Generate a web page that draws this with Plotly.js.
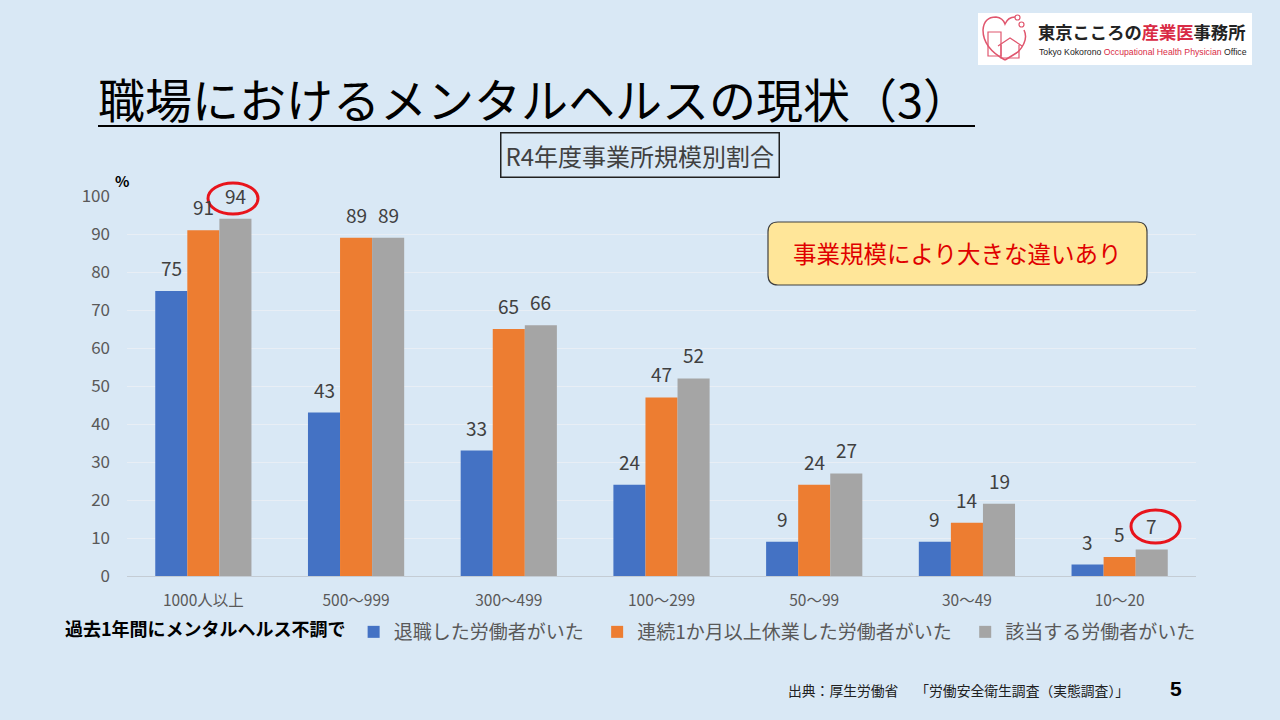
<!DOCTYPE html>
<html><head><meta charset="utf-8">
<script src="https://cdn.plot.ly/plotly-3.0.1.min.js"></script>
<style>html,body{margin:0;padding:0;background:#d9e8f5;}#chart{width:1280px;height:720px;}</style>
</head><body><div id="chart"></div>
<script>
const categories = ['1000人以上','500～999','300～499','100～299','50～99','30～49','10～20'];
const seriesNames = ['退職した労働者がいた','連続1か月以上休業した労働者がいた','該当する労働者がいた'];
const resigned = [75, 43, 33, 24, 9, 9, 3];
const leave = [91, 89, 65, 47, 24, 14, 5];
const any = [94, 89, 66, 52, 27, 19, 7];
const yTicks = [0,10,20,30,40,50,60,70,80,90,100];
const colors = ['#4472C4','#ED7D31','#A5A5A5'];

const FONT = '"Noto Sans CJK JP", "Noto Sans", sans-serif';
const L=127, R=1196, T=196, B=576, W=R-L, H=B-T;
const px = x => (x-L)/W;
const py = y => (B-y)/H;
const BARGAP = 0.37;
const barW = (1-BARGAP)/3;

function roundRect(x0,y0,x1,y1,r){
  const p=(x,y)=>px(x)+','+py(y);
  return 'M'+p(x0+r,y0)+' L'+p(x1-r,y0)+' Q'+p(x1,y0)+' '+p(x1,y0+r)+
    ' L'+p(x1,y1-r)+' Q'+p(x1,y1)+' '+p(x1-r,y1)+' L'+p(x0+r,y1)+
    ' Q'+p(x0,y1)+' '+p(x0,y1-r)+' L'+p(x0,y0+r)+' Q'+p(x0,y0)+' '+p(x0+r,y0)+' Z';
}

const seriesVals = [resigned, leave, any];
const traces = seriesVals.map((v,i)=>({
  type:'bar', name:seriesNames[i] + '\u00A0\u00A0', x:categories, y:v,
  marker:{color:colors[i]}, hoverinfo:'none'
}));

const shapes = [
  {type:'line', xref:'paper', yref:'paper', x0:px(98), x1:px(975), y0:py(126), y1:py(126), line:{color:'#000', width:2}},
  {type:'path', xref:'paper', yref:'paper', path:roundRect(768,222,1147,285,10), fillcolor:'#FFE699', line:{color:'#404040', width:1.2}},
  {type:'rect', xref:'paper', yref:'paper', x0:px(978), x1:px(1252), y0:py(65), y1:py(13), fillcolor:'#ffffff', line:{width:0}},
  {type:'path', xref:'paper', yref:'paper', line:{color:'#E0566E', width:1.5},
    path:(function(){const p=(x,y)=>px(x)+','+py(y);
      return 'M'+p(1005,60)+' Q'+p(983,48)+' '+p(983,30)+' Q'+p(984,17)+' '+p(996,17)+' Q'+p(1003,18)+' '+p(1005,24)+' Q'+p(1008,17)+' '+p(1015,17);})()},
  {type:'circle', xref:'paper', yref:'paper', x0:px(1015), x1:px(1020), y0:py(20), y1:py(15), line:{color:'#E0566E', width:1.2}},
  {type:'circle', xref:'paper', yref:'paper', x0:px(1019), x1:px(1024), y0:py(27), y1:py(22), line:{color:'#E0566E', width:1.2}},
  {type:'path', xref:'paper', yref:'paper', line:{color:'#E0566E', width:1.5},
    path:(function(){const p=(x,y)=>px(x)+','+py(y);
      return 'M'+p(1024,30)+' Q'+p(1029,40)+' '+p(1018,52)+' L'+p(1005,60);})()},
  {type:'rect', xref:'paper', yref:'paper', x0:px(988), x1:px(1001), y0:py(56), y1:py(32), line:{color:'#E0566E', width:1.2}},
  {type:'path', xref:'paper', yref:'paper', line:{color:'#E0566E', width:1.2},
    path:(function(){const p=(x,y)=>px(x)+','+py(y);
      return 'M'+p(998,46)+' L'+p(1010,38)+' L'+p(1022,46)+' M'+p(1001,45)+' L'+p(1001,58)+' L'+p(1019,58)+' L'+p(1019,45);})()}
];

const annotations = [
  {xref:'paper', yref:'paper', x:px(640), y:py(155), text:'R4年度事業所規模別割合', showarrow:false,
   font:{family:FONT, size:24, color:'#404040'}, bordercolor:'#202020', borderwidth:1.5, borderpad:4, xanchor:'center', yanchor:'middle'},
  {xref:'paper', yref:'paper', x:px(957), y:py(253), text:'事業規模により大きな違いあり', showarrow:false,
   font:{family:FONT, size:23.5, color:'#E00000'}, xanchor:'center', yanchor:'middle'},
  {xref:'paper', yref:'paper', x:px(113), y:py(180), text:'<b>%</b>', showarrow:false,
   font:{family:FONT, size:15, color:'#000'}, xanchor:'left', yanchor:'middle'},
  {xref:'paper', yref:'paper', x:px(786), y:py(690), text:'出典：厚生労働省　\u00A0「労働安全衛生調査（実態調査）」', showarrow:false,
   font:{family:FONT, size:13.8, color:'#202020'}, xanchor:'left', yanchor:'middle'},
  {xref:'paper', yref:'paper', x:px(1176), y:py(688), text:'<b>5</b>', showarrow:false,
   font:{family:'"Liberation Sans", Arial, sans-serif', size:21, color:'#000'}, xanchor:'center', yanchor:'middle'},
  {xref:'paper', yref:'paper', x:px(1036), y:py(31), text:'<b>東京こころの<span style="color:#D92B45">産業医</span>事務所</b>', showarrow:false,
   font:{family:FONT, size:17.3, color:'#222'}, xanchor:'left', yanchor:'middle'},
  {xref:'paper', yref:'paper', x:px(1037), y:py(52), text:'Tokyo Kokorono <span style="color:#D92B45">Occupational Health Physician</span> Office', showarrow:false,
   font:{family:'"Liberation Sans", Arial, sans-serif', size:8.7, color:'#222'}, xanchor:'left', yanchor:'middle'}
];

// value labels above bars, placed with the x/y axes
seriesVals.forEach((v,k)=>{
  v.forEach((val,i)=>{
    annotations.push({xref:'x', yref:'y', x:i+(k-1)*barW, y:val, text:String(val), showarrow:false,
      xanchor:'center', yanchor:'bottom', yshift:8, font:{family:FONT, size:19, color:'#404040'}});
  });
});

// red highlight circles (paper positions)
shapes.push({type:'circle', xref:'paper', yref:'paper', x0:px(208), x1:px(258), y0:py(214), y1:py(183), line:{color:'#E8141C', width:3}});
shapes.push({type:'circle', xref:'paper', yref:'paper', x0:px(1131), x1:px(1180), y0:py(543), y1:py(510), line:{color:'#E8141C', width:3}});

const layout = {
  width:1280, height:720,
  margin:{l:L, r:1280-R, t:T, b:720-B, pad:0},
  paper_bgcolor:'#d9e8f5', plot_bgcolor:'rgba(0,0,0,0)',
  font:{family:FONT, color:'#595959'},
  title:{text:'職場におけるメンタルヘルスの現状（3）', xref:'container', yref:'container', x:98/1280, xanchor:'left', y:1-102/720, yanchor:'middle',
    font:{family:FONT, size:47, color:'#000'}},
  barmode:'group', bargap:BARGAP, bargroupgap:0,
  showlegend:true,
  legend:{orientation:'h', x:px(63), xanchor:'left', y:py(613), yanchor:'top', bgcolor:'rgba(0,0,0,0)',
    font:{family:FONT, size:19, color:'#595959'},
    title:{text:'<b>過去1年間にメンタルヘルス不調で</b>', side:'left', font:{family:FONT, size:18, color:'#000'}},
    traceorder:'normal'},
  xaxis:{type:'category', tickfont:{family:FONT, size:15.5, color:'#595959'}, showline:true, linecolor:'#c4ccd4', linewidth:1,
    ticks:'', showgrid:false, fixedrange:true, ticklabelstandoff:10},
  yaxis:{range:[0,100], tickvals:yTicks, ticktext:yTicks.map(String), tickfont:{family:FONT, size:17, color:'#595959'},
    showgrid:true, gridcolor:'#e8eef5', gridwidth:1, zeroline:false, showline:false, ticks:'', ticklabelstandoff:16, fixedrange:true},
  shapes:shapes, annotations:annotations
};
Plotly.newPlot('chart', traces, layout, {staticPlot:true, displayModeBar:false});
</script></body></html>
